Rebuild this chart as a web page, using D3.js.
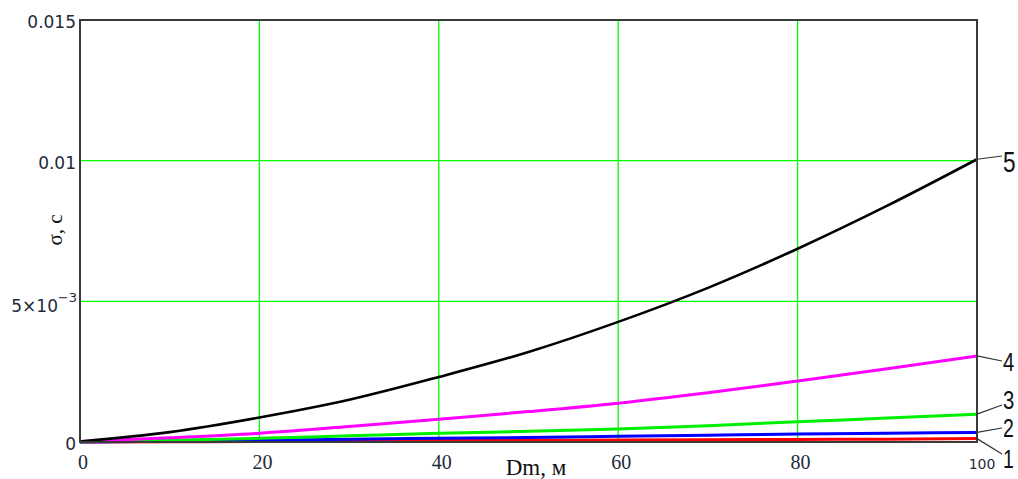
<!DOCTYPE html>
<html><head><meta charset="utf-8">
<script src="https://cdn.jsdelivr.net/npm/d3@7"></script>
<style>body{margin:0;background:#fff}svg{display:block}</style>
</head><body>
<svg id="c" width="1018" height="479"></svg>
<script>
const dm = [0,10,20,30,40,50,60,70,80,90,100];
const s1 = [0,0.00001,0.00002,0.00004,0.00005,0.00006,0.00007,0.00008,0.00009,0.0001,0.00012];
const s2 = [0,0.00003,0.00006,0.0001,0.00013,0.00016,0.0002,0.00024,0.00028,0.00031,0.00034];
const s3 = [0.00001,0.00006,0.00013,0.00022,0.00031,0.00038,0.00046,0.00058,0.00072,0.00085,0.00099];
const s4 = [0.00002,0.00015,0.00031,0.00055,0.00081,0.00108,0.00138,0.00175,0.00217,0.0026,0.00306];
const s5 = [0.00002,0.00035,0.00087,0.0015,0.00231,0.0032,0.00427,0.00548,0.00687,0.0084,0.01005];
const seriesNames = ["1","2","3","4","5"];
const seriesColors = ["#ff0000","#0000ff","#00ee00","#ff00ff","#000000"];
const xTicks = [0,20,40,60,80,100];
const xTickLabels = ["0","20","40","60","80","100"];
const yTicks = [0,0.005,0.01,0.015];
const yTickLabels = ["0","5×10","0.01","0.015"];
const xTitle = "Dm, м";
const yTitle = "σ, c";

const svg = d3.select("#c");
const L=80,R=977,T=20,B=442;
const x = d3.scaleLinear().domain([0,100]).range([L,R]);
const y = d3.scaleLinear().domain([0,0.015]).range([B,T]);

// grid
const g = svg.append("g");
[20,40,60,80].forEach(v=>g.append("line").attr("x1",x(v)).attr("x2",x(v)).attr("y1",T).attr("y2",B)
  .attr("stroke","#00ff00").attr("stroke-width",1.3));
[0.005,0.01].forEach(v=>g.append("line").attr("x1",L).attr("x2",R).attr("y1",y(v)).attr("y2",y(v))
  .attr("stroke","#00ff00").attr("stroke-width",1.3));

// series
const all = [s1,s2,s3,s4,s5];
const line = d3.line().x((d,i)=>x(dm[i])).y(d=>y(d)).curve(d3.curveMonotoneX);
all.forEach((s,k)=>{
  svg.append("path").datum(s).attr("d",line).attr("fill","none")
    .attr("stroke",seriesColors[k]).attr("stroke-width",k===4?2.6:3);
});

// frame
svg.append("rect").attr("x",L).attr("y",T).attr("width",R-L).attr("height",B-T)
  .attr("fill","none").attr("stroke","#3a3a3a").attr("stroke-width",2);

// y ticks
const tc = "#1e2a3a";
yTicks.forEach((v,i)=>{
  const t = svg.append("text").attr("x",L-4).attr("y",y(v)+8).attr("text-anchor","end")
    .attr("font-family","DejaVu Sans").attr("font-size",17).attr("fill",tc);
  if(v===0.005){
    t.text(yTickLabels[i]).attr("x",L-22).attr("y",y(v)+11);
    svg.append("text").attr("x",L-3).attr("y",y(v)+1).attr("text-anchor","end")
      .attr("font-family","DejaVu Sans").attr("font-size",13).attr("fill",tc).text("−3");
  } else t.text(yTickLabels[i]);
});
// x ticks
xTicks.forEach((v,i)=>{
  const last = v===100;
  svg.append("text").attr("x",x(v)+(last?5:3)).attr("y",B+27).attr("text-anchor","middle")
    .attr("font-family",last?"DejaVu Sans":"Liberation Serif").attr("font-size",last?14:20)
    .attr("fill",tc).text(xTickLabels[i]);
});
// titles
svg.append("text").attr("x",536).attr("y",475).attr("text-anchor","middle")
  .attr("font-family","Liberation Serif").attr("font-size",23).attr("fill","#111").text(xTitle);
svg.append("text").attr("transform","translate(62,230) rotate(-90)").attr("text-anchor","middle")
  .attr("font-family","Liberation Serif").attr("font-size",21).attr("fill","#111").text(yTitle);

// curve labels with leaders
const lab = [
  {ly:454, ty:468, fs:25},
  {ly:428, ty:437, fs:25},
  {ly:405, ty:409, fs:26},
  {ly:361, ty:371, fs:26},
  {ly:156, ty:172, fs:29}
];
all.forEach((s,k)=>{
  const yEnd = y(s[s.length-1]);
  svg.append("line").attr("x1",R).attr("y1",yEnd).attr("x2",1002).attr("y2",lab[k].ly)
    .attr("stroke","#333").attr("stroke-width",1.2);
  svg.append("text").attr("x",1003).attr("y",lab[k].ty)
    .attr("font-family","Liberation Sans").attr("font-size",lab[k].fs).attr("fill","#111")
    .attr("transform",`translate(${1003*0.22},0) scale(0.78,1)`).text(seriesNames[k]);
});
</script>
</body></html>
